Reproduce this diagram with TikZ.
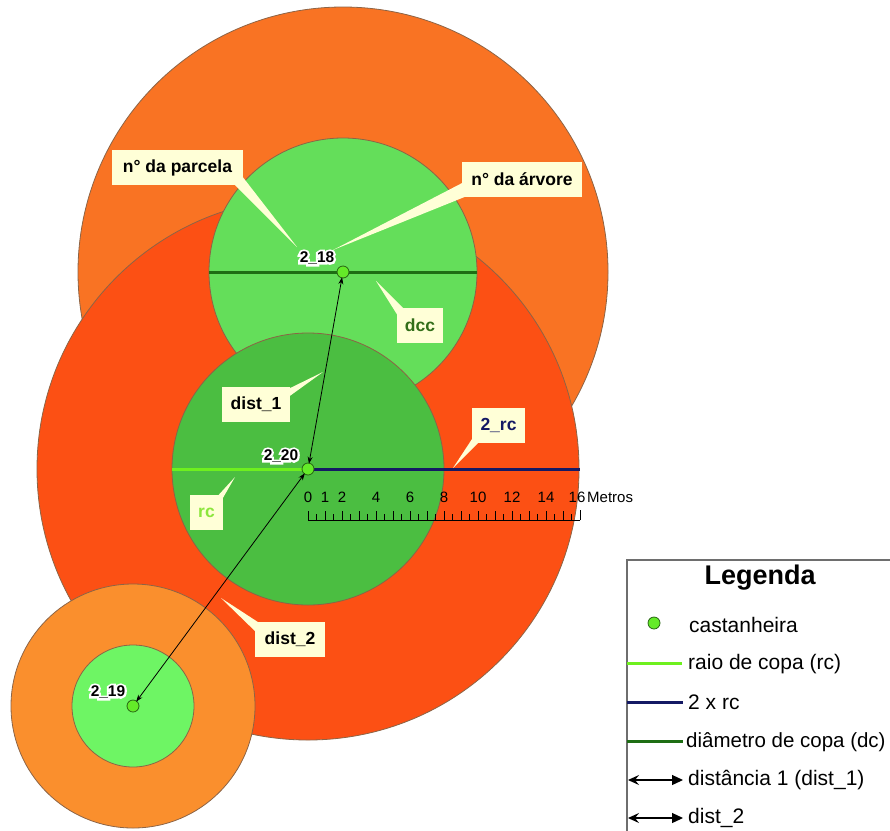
\documentclass[tikz,border=0pt]{standalone}
\usepackage{fontspec}
\setmainfont{Liberation Sans}
\newfontfamily\halofont[FakeBold=28]{Liberation Sans}
\usetikzlibrary{arrows.meta}
\definecolor{orangeA}{RGB}{249,115,35}
\definecolor{redB}{RGB}{252,80,20}
\definecolor{orangeC}{RGB}{250,143,45}
\definecolor{greenA}{RGB}{100,222,90}
\definecolor{greenB}{RGB}{75,190,65}
\definecolor{greenC}{RGB}{110,245,100}
\definecolor{rim}{RGB}{140,100,70}
\definecolor{cream}{RGB}{255,255,215}
\definecolor{dotfill}{RGB}{100,235,40}
\definecolor{dotrim}{RGB}{40,100,20}
\definecolor{rcline}{RGB}{110,240,30}
\definecolor{navy}{RGB}{20,25,100}
\definecolor{dcline}{RGB}{30,110,20}
\definecolor{rctext}{RGB}{140,230,60}
\definecolor{dcctext}{RGB}{50,110,25}
\definecolor{legrim}{RGB}{110,110,110}
\newcommand\halolbl[1]{{\setbox0\hbox{\bfseries #1}\rlap{\color{white}\halofont\bfseries #1}\copy0}}
\begin{document}
\begin{tikzpicture}[x=1pt,y=-1pt,
  crown/.style={draw=rim,line width=0.8pt},
  tree/.style={circle,draw=dotrim,fill=dotfill,line width=0.8pt,minimum size=12pt,inner sep=0pt},
  callout/.style={fill=cream,inner sep=0pt,minimum height=35pt,font=\bfseries\fontsize{17.5}{20}\selectfont},
  treelbl/.style={inner sep=0pt,font=\fontsize{15.5}{18}\selectfont},
  wedge/.style={fill=cream},
  distarrow/.style={black,line width=0.8pt,{Stealth[length=7pt,width=5pt]}-{Stealth[length=7pt,width=5pt]},shorten <=-1pt,shorten >=-1pt},
  legarrow/.style={black,line width=1.2pt,{Stealth[length=11pt,width=10pt,inset=4pt]}-{Stealth[length=11pt,width=10pt,inset=0pt]}},
  legtext/.style={anchor=west,inner sep=0pt,font=\fontsize{21}{24}\selectfont},
  scalelbl/.style={inner sep=0pt,font=\fontsize{15}{18}\selectfont}
]
\useasboundingbox (0,0) rectangle (890,830);
% crowns
\draw[crown,fill=orangeA] (343,272) circle[radius=265pt];
\draw[crown,fill=redB] (308,469) circle[radius=271pt];
\draw[crown,fill=orangeC] (133,706) circle[radius=122pt];
\draw[crown,fill=greenA] (343,272) circle[radius=134pt];
\draw[crown,fill=greenB] (308,469) circle[radius=136pt];
\draw[crown,fill=greenC] (133,706) circle[radius=61pt];
% radius / diameter lines
\coordinate (d18a) at (209,272); \coordinate (d18b) at (477,272);
\coordinate (rca) at (172,469); \coordinate (rcb) at (308,469);
\coordinate (rc2b) at (580,469);
\draw[dcline,line width=3pt] (d18a) -- (d18b);
\draw[rcline,line width=3pt] (rca) -- (rcb);
\draw[navy,line width=3pt] (rcb) -- (rc2b);
% trees
\node[tree] (t18) at (343,272) {};
\node[tree] (t20) at (308,469) {};
\node[tree] (t19) at (133,706) {};
\draw[distarrow] (t20) -- (t18);
\draw[distarrow] (t20) -- (t19);
% tree labels
\node[treelbl] (l18) at (317,258) {\halolbl{2\_18}};
\node[treelbl] (l20) at (281,456) {\halolbl{2\_20}};
\node[treelbl] (l19) at (108,692) {\halolbl{2\_19}};
% callout wedges
\fill[wedge] (234,184) -- (242,176) -- (297,247) -- cycle;
\fill[wedge] (466,181) -- (472,194) -- (333,250) -- cycle;
\fill[wedge] (398,316) -- (405,310) -- (376,281) -- cycle;
\fill[wedge] (282,392) -- (287,398) -- (323,372) -- cycle;
\fill[wedge] (474,436) -- (481,440) -- (453,468) -- cycle;
\fill[wedge] (214,500) -- (220,503) -- (235,477) -- cycle;
\fill[wedge] (258,634) -- (264,626) -- (221,598) -- cycle;
% callout boxes
\node[callout,minimum width=131pt] (cparc) at (177.5,167.5) {n° da parcela};
\node[callout,minimum width=120pt] (carv) at (522,179.5) {n° da árvore};
\node[callout,minimum width=46pt,text=dcctext] (cdcc) at (420,325.5) {dcc};
\node[callout,minimum width=68pt] (cd1) at (256,404.5) {dist\_1};
\node[callout,minimum width=53pt,text=navy] (c2rc) at (498.5,425.5) {2\_rc};
\node[callout,minimum width=33pt,text=rctext] (crc) at (206.5,512.5) {rc};
\node[callout,minimum width=70pt] (cd2) at (290,639.5) {dist\_2};
% scale bar
\coordinate (sb0) at (308,520); \coordinate (sb1) at (580,520);
\draw[black,line width=1pt] (sb0) -- (sb1);
\foreach \i in {0,...,32}{
  \pgfmathsetmacro{\xx}{308+8.5*\i}
  \ifodd\i \draw[black,line width=0.9pt] (\xx,520) -- (\xx,514);
  \else \draw[black,line width=0.9pt] (\xx,520) -- (\xx,511); \fi
}
\draw[black,line width=1pt] (580,520) -- (580,510);
\foreach \v in {0,1,2,4,6,8,10,12,14}{
  \node[scalelbl] (sl\v) at (308+17*\v,497) {\v};
}
\node[scalelbl] (sl16) at (577,497) {16};
\node[scalelbl,anchor=west] (slm) at (587,497) {Metros};
% legend
\draw[legrim,line width=1.5pt] (627,560) rectangle (910,850);
\node[inner sep=0pt,font=\bfseries\fontsize{27}{30}\selectfont] (legt) at (760,578) {Legenda};
\node[tree] (legdot) at (654,623) {};
\node[legtext] (lt1) at (689,625) {castanheira};
\coordinate (lra) at (627,663); \coordinate (lrb) at (682,663);
\draw[rcline,line width=3pt] (lra) -- (lrb);
\node[legtext] (lt2) at (688,664) {raio de copa (rc)};
\coordinate (lna) at (627,702); \coordinate (lnb) at (683,702);
\draw[navy,line width=3pt] (lna) -- (lnb);
\node[legtext] (lt3) at (688,702) {2 x rc};
\coordinate (lda) at (627,741); \coordinate (ldb) at (683,741);
\draw[dcline,line width=3pt] (lda) -- (ldb);
\node[legtext,font=\fontsize{20.5}{24}\selectfont] (lt4) at (686,742) {diâmetro de copa (dc)};
\coordinate (l5a) at (628,780); \coordinate (l5b) at (683,780);
\draw[legarrow] (l5a) -- (l5b);
\node[legtext] (lt5) at (688,780) {distância 1 (dist\_1)};
\coordinate (l6a) at (628,818); \coordinate (l6b) at (683,818);
\draw[legarrow] (l6a) -- (l6b);
\node[legtext] (lt6) at (688,818) {dist\_2};
\end{tikzpicture}
\end{document}
